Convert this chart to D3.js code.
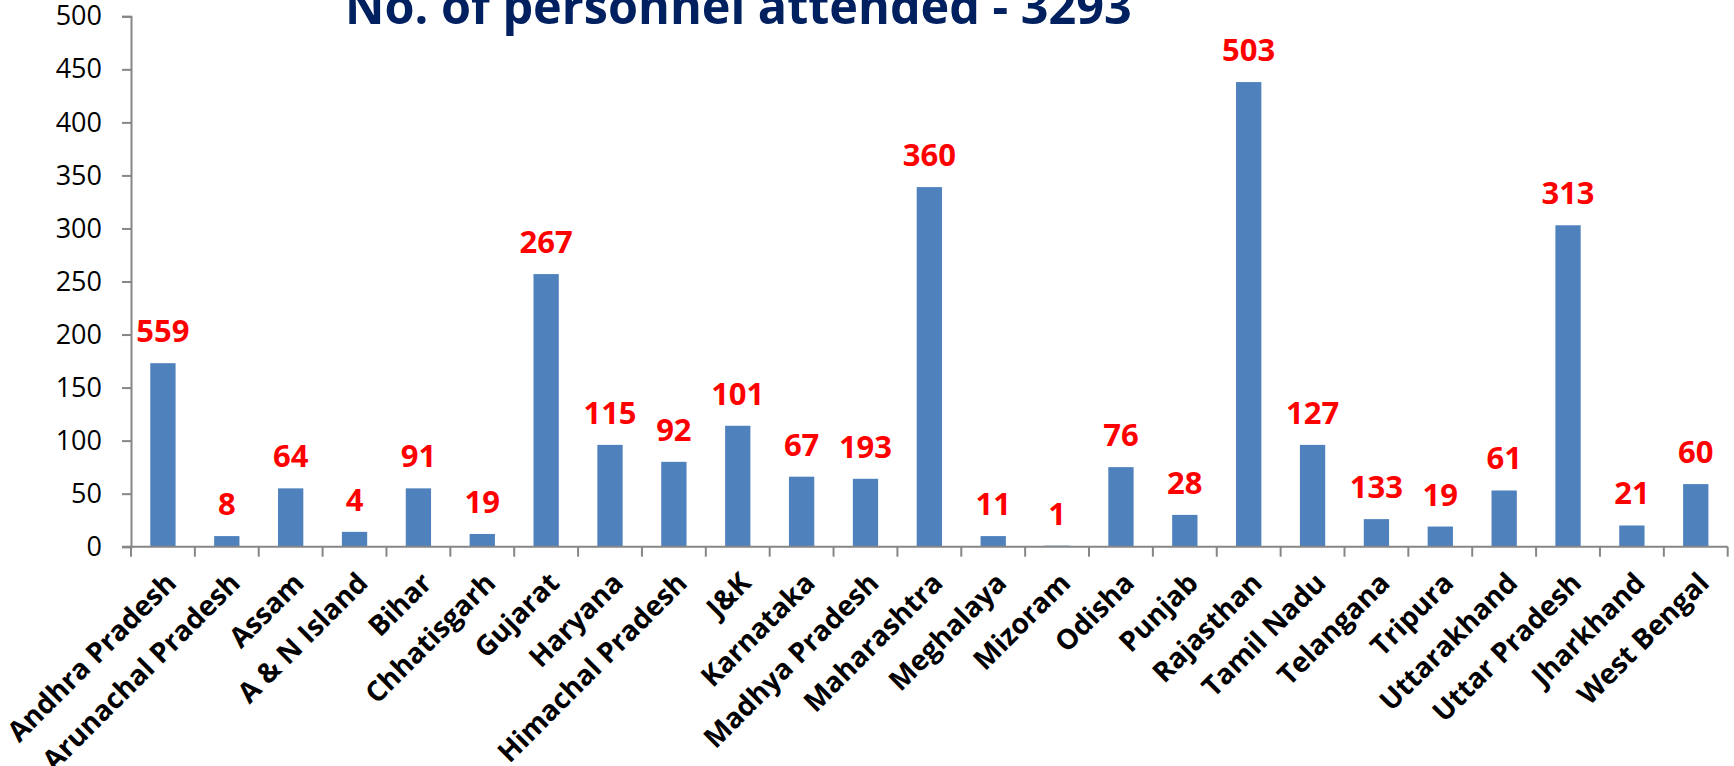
<!DOCTYPE html>
<html>
<head>
<meta charset="utf-8">
<script src="https://cdn.jsdelivr.net/npm/d3@7"></script>
<style>
  body { margin: 0; background: #fff; }
  svg { display: block; font-family: 'Open Sans', sans-serif; }
</style>
</head>
<body>
<svg id="chart" width="1734" height="766"></svg>
<script>
// states on the x axis
const states = [
  'Andhra Pradesh', 'Arunachal Pradesh', 'Assam', 'A & N Island', 'Bihar',
  'Chhatisgarh', 'Gujarat', 'Haryana', 'Himachal Pradesh', 'J&K',
  'Karnataka', 'Madhya Pradesh', 'Maharashtra', 'Meghalaya', 'Mizoram',
  'Odisha', 'Punjab', 'Rajasthan', 'Tamil Nadu', 'Telangana',
  'Tripura', 'Uttarakhand', 'Uttar Pradesh', 'Jharkhand', 'West Bengal'
];
// bar heights as drawn
const barValues = [
  173, 10, 55, 14, 55,
  12, 257, 96, 80, 114,
  66, 64, 339, 10, 1,
  75, 30, 438, 96, 26,
  19, 53, 303, 20, 59
];
// red numbers written over the bars
const labelValues = [
  559, 8, 64, 4, 91,
  19, 267, 115, 92, 101,
  67, 193, 360, 11, 1,
  76, 28, 503, 127, 133,
  19, 61, 313, 21, 60
];
const yTicks = [0, 50, 100, 150, 200, 250, 300, 350, 400, 450, 500];
const title = 'No. of personnel attended - 3293';

const axisColor = '#868686';
const barColor = '#4F81BD';

const svg = d3.select('#chart');
const plotLeft = 131, plotRight = 1727.7, plotTop = 16.3, plotBottom = 546.7;

const x = d3.scaleBand().domain(states).range([plotLeft, plotRight]).padding(0);
const y = d3.scaleLinear().domain([0, 500]).range([plotBottom, plotTop]);
const barW = x.bandwidth() * 0.396;

// title, fitted to its width in the picture (top is cut off by the frame)
const t = svg.append('text')
  .attr('x', 345)
  .attr('y', 23.5)
  .attr('fill', '#002060')
  .attr('font-weight', 'bold')
  .attr('font-size', 40)
  .text(title);
const w = t.node().getComputedTextLength();
t.attr('font-size', 40 * 787 / w);

// y axis
const yAxis = svg.append('g')
  .attr('transform', `translate(${plotLeft},0)`)
  .call(d3.axisLeft(y).tickValues(yTicks).tickSize(9).tickPadding(20));
yAxis.select('.domain').attr('stroke', axisColor).attr('stroke-width', 2);
yAxis.selectAll('.tick line').attr('stroke', axisColor).attr('stroke-width', 2);
yAxis.selectAll('.tick text')
  .attr('font-size', 27)
  .attr('fill', '#000')
  .attr('font-family', "'Open Sans', sans-serif");

// bars
svg.append('g')
  .selectAll('rect')
  .data(states)
  .join('rect')
  .attr('x', (d) => x(d) + (x.bandwidth() - barW) / 2)
  .attr('y', (d, i) => y(barValues[i]))
  .attr('width', barW)
  .attr('height', (d, i) => plotBottom - y(barValues[i]))
  .attr('fill', barColor);

// x axis line and boundary ticks
svg.append('line')
  .attr('x1', plotLeft - 9).attr('x2', plotRight)
  .attr('y1', plotBottom).attr('y2', plotBottom)
  .attr('stroke', axisColor).attr('stroke-width', 2);
const edges = states.map((d) => x(d)).concat([plotRight]);
svg.append('g')
  .selectAll('line')
  .data(edges)
  .join('line')
  .attr('x1', (d) => d).attr('x2', (d) => d)
  .attr('y1', plotBottom).attr('y2', plotBottom + 10)
  .attr('stroke', axisColor).attr('stroke-width', 2);

// rotated category names
svg.append('g')
  .selectAll('text')
  .data(states)
  .join('text')
  .attr('transform', (d) => {
    const cx = x(d) + x.bandwidth() / 2 + 15;
    return `translate(${cx},${plotBottom + 38}) rotate(-45)`;
  })
  .attr('text-anchor', 'end')
  .attr('font-size', 28)
  .attr('font-weight', 'bold')
  .attr('fill', '#000')
  .text((d) => d);

// red value labels
svg.append('g')
  .selectAll('text')
  .data(states)
  .join('text')
  .attr('x', (d) => x(d) + x.bandwidth() / 2)
  .attr('y', (d, i) => y(barValues[i]) - 21)
  .attr('text-anchor', 'middle')
  .attr('font-size', 31)
  .attr('font-weight', 'bold')
  .attr('fill', '#FF0000')
  .text((d, i) => labelValues[i]);
</script>
</body>
</html>
